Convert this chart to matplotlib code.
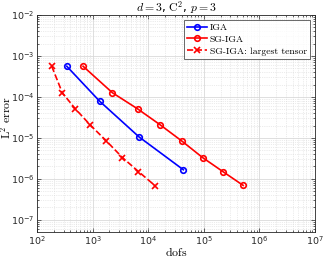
import matplotlib
matplotlib.use("Agg")
import matplotlib.pyplot as plt
from matplotlib.ticker import LogLocator, NullFormatter

plt.rcParams['mathtext.fontset'] = 'cm'

iga_dofs = [343, 1331, 6859, 42875]
iga_err = [5.6e-4, 7.9e-5, 1.05e-5, 1.66e-6]

sg_dofs = [674, 2275, 6450, 16400, 40500, 95000, 2.2e5, 5.1e5]
sg_err = [5.6e-4, 1.26e-4, 5.1e-5, 2.08e-5, 8.3e-6, 3.3e-6, 1.5e-6, 6.9e-7]

lt_dofs = [184, 286, 490, 900, 1750, 3440, 6690, 13400]
lt_err = [5.6e-4, 1.25e-4, 5.1e-5, 2.08e-5, 8.5e-6, 3.3e-6, 1.5e-6, 6.7e-7]

W, H = 324, 261
L, R, T, B = 37, 315, 15, 232
fig = plt.figure(figsize=(W/100, H/100), dpi=100)
ax = fig.add_axes([L/W, 1-B/H, (R-L)/W, (B-T)/H])

ax.loglog(iga_dofs, iga_err, '-o', color='b', lw=1.2, ms=4, mfc='none', mew=1.2, label='IGA')
ax.loglog(sg_dofs, sg_err, '-o', color='r', lw=1.2, ms=4, mfc='none', mew=1.2, label='SG-IGA')
ax.loglog(lt_dofs, lt_err, '--x', color='r', lw=1.2, ms=4, mew=1.2, label='SG-IGA: largest tensor')

ax.set_xlim(1e2, 1e7)
ax.set_ylim(10**-7.3, 1e-2)
ax.xaxis.set_major_locator(LogLocator(base=10, numticks=10))
ax.yaxis.set_major_locator(LogLocator(base=10, numticks=10))
ax.xaxis.set_minor_locator(LogLocator(base=10, subs=range(2, 10), numticks=20))
ax.yaxis.set_minor_locator(LogLocator(base=10, subs=range(2, 10), numticks=20))
ax.xaxis.set_minor_formatter(NullFormatter())
ax.yaxis.set_minor_formatter(NullFormatter())

ax.grid(True, which='major', color='#d9d9d9', lw=0.6, ls='-')
ax.grid(True, which='minor', color='#d9d9d9', lw=0.5, ls=':')
ax.set_axisbelow(True)
ax.tick_params(which='both', direction='in', top=True, right=True, labelsize=6.8, colors='#262626', width=0.5, pad=2)
ax.tick_params(which='major', length=3)
ax.tick_params(which='minor', length=1.5)
for s in ax.spines.values():
    s.set_linewidth(0.6)
    s.set_color('#262626')

ax.set_title(r'$d=3$, $\mathrm{C}^2$, $p=3$', fontsize=8.5, pad=0,
             y=(B-8)/(B-T), va='center')
ax.set_xlabel(r'$\mathrm{dofs}$', fontsize=8.5)
ax.xaxis.set_label_coords(0.5, (B-253)/(B-T))
ax.xaxis.label.set_va('center')
ax.set_ylabel(r'$\mathrm{L}^2\ \mathrm{error}$', fontsize=8.5)
ax.yaxis.set_label_coords((6-L)/(R-L), (B-118)/(B-T))
ax.yaxis.label.set_va('center')
ax.yaxis.label.set_ha('center')

leg = ax.legend(loc='upper right', prop={'family': 'cmr10', 'size': 7},
                frameon=True, fancybox=False, edgecolor='#262626', borderaxespad=0.5,
                handlelength=2.0, labelspacing=0.3, borderpad=0.35, handletextpad=0.3)
leg.get_frame().set_linewidth(0.6)

fig.savefig('out.png', dpi=100)
